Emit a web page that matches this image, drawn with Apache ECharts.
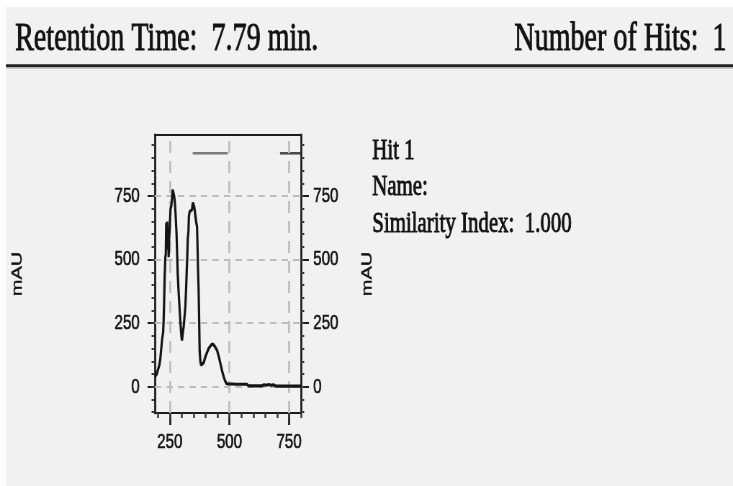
<!DOCTYPE html>
<html>
<head>
<meta charset="utf-8">
<title>Spectrum Library Hit</title>
<script src="https://cdn.jsdelivr.net/npm/echarts@6/dist/echarts.min.js"></script>
<style>
  html, body { margin: 0; padding: 0; width: 733px; height: 486px; overflow: hidden; background: #ffffff; }
  #panel { position: absolute; left: 6px; top: 7px; right: 0; bottom: 0; background: #f1f1f1; }
  /* the chart is laid out on a wider canvas and squeezed horizontally, like the report's condensed fonts */
  #chart { position: absolute; left: 0; top: 0; width: 1018px; height: 486px; transform: scaleX(0.72); transform-origin: 0 0; }
</style>
</head>
<body>
<div id="panel"></div>
<div id="chart"></div>
<script>
// UV spectrum of the hit (wavelength in nm, absorbance in mAU)
const wavelength = [
  188, 192, 196, 201, 206, 210, 214, 218, 222, 224, 226, 228, 231, 233, 235, 237, 239, 241, 243, 245,
  247, 250, 253, 256, 259, 262, 265, 268, 271, 274, 278, 281, 283, 287, 292, 295, 297, 299, 301, 303,
  306, 308, 312, 315, 318, 320, 323, 325, 328, 330, 333, 336, 339, 343, 345, 347, 350, 352, 355, 358,
  361, 364, 366, 368, 371, 373, 375, 378, 381, 386, 392, 399, 406, 413, 420, 427, 434, 441, 448, 455,
  462, 469, 476, 481, 487, 495, 510, 530, 550, 565, 573, 580, 600, 620, 636, 645, 655, 665, 675, 684,
  692, 700, 720, 750, 780, 800
];
const absorbance = [
   40,  45,  52,  70,  85, 110, 150, 190, 215, 260, 330, 420, 510, 520, 645, 600, 650, 540, 600, 510,
  580, 640, 700, 710, 740, 775, 772, 750, 725, 680, 604, 510, 446, 370, 289, 245, 217, 195, 182, 200,
  225, 236, 280, 315, 380, 433, 510, 578, 610, 670, 689, 690, 695, 696, 715, 724, 718, 709, 690, 665,
  645, 630, 560, 470, 368, 260, 144, 100,  85,  80,  95, 118, 135, 151, 160, 168, 165, 155, 144, 120,
   92,  63,  39,  25,  13,  11,  11,  10,  10,  10,  10,   4,   4,   4,   4,   8,   6,   9,   6,   8,
    4,   3,   3,   3,   3,   3
];

// axis extents and tick positions
const xRange = [187, 800];
const yRange = [-103, 990];
const xMajorTicks = [250, 500, 750];
const xMinorTicks = [200, 250, 300, 350, 400, 450, 500, 550, 600, 650, 700, 750, 800];
const yMajorTicks = [0, 250, 500, 750];
const yMinorTicks = [-100, -50, 0, 50, 100, 150, 200, 250, 300, 350, 400, 450, 500, 550, 600, 650, 700, 750, 800, 850, 900, 950];

// header and hit information
const headerLeft = 'Retention Time:  7.79 min.';
const headerRight = 'Number of Hits:  1';
const hitLines = ['Hit 1', 'Name:', 'Similarity Index:  1.000'];
const yUnit = 'mAU';

const INK = '#121212';
const AXIS = '#1c1c1c';
const GRID = '#bdbdbd';
const LABEL_FONT = 'Liberation Sans';
const SERIF = '"Liberation Serif", "Times New Roman", serif';

const chart = echarts.init(document.getElementById('chart'), null, { renderer: 'canvas' });

const labelStyle = { fontFamily: LABEL_FONT, fontSize: 21, color: INK, textBorderColor: INK, textBorderWidth: 0.6 };
const nameStyle = { fontFamily: LABEL_FONT, fontSize: 20, color: INK, textBorderColor: INK, textBorderWidth: 0.5 };

function yAxisPair(position, majorLen, labelMargin, nameGap) {
  return [
    {
      type: 'value', position, min: yRange[0], max: yRange[1],
      axisLine: { show: true, onZero: false, lineStyle: { color: AXIS, width: 2.8 } },
      axisTick: { show: true, customValues: yMajorTicks, length: majorLen, lineStyle: { color: AXIS, width: 2 } },
      axisLabel: { show: true, customValues: yMajorTicks, margin: labelMargin, ...labelStyle },
      splitLine: { show: false },
      name: yUnit, nameLocation: 'middle', nameRotate: 90, nameGap, nameTextStyle: nameStyle
    },
    {
      type: 'value', position, min: yRange[0], max: yRange[1],
      axisLine: { show: false, onZero: false },
      axisTick: { show: true, customValues: yMinorTicks, length: 4.5, lineStyle: { color: '#3a3a3a', width: 2 } },
      axisLabel: { show: false },
      splitLine: { show: false }
    }
  ];
}

const gridLines = [
  ...xMajorTicks.map(v => ({ xAxis: v, lineStyle: { type: [12, 8], width: 2.8 } })),
  ...yMajorTicks.map(v => ({ yAxis: v, lineStyle: { type: [9, 7], width: 2 } }))
];

function serifText(text, x, y, size, align) {
  return {
    type: 'text', silent: true, x, y,
    style: { text, font: size + 'px ' + SERIF, fill: INK, stroke: INK, lineWidth: 0.9, align, verticalAlign: 'middle' }
  };
}

chart.setOption({
  animation: false,
  backgroundColor: 'transparent',
  textStyle: { fontFamily: LABEL_FONT },
  grid: { left: 215, top: 135, width: 203, height: 278, outerBoundsMode: 'none', containLabel: false },
  xAxis: [
    {
      type: 'value', position: 'bottom', min: xRange[0], max: xRange[1],
      axisLine: { show: true, onZero: false, lineStyle: { color: AXIS, width: 2 } },
      axisTick: { show: true, customValues: xMajorTicks, length: 12, lineStyle: { color: AXIS, width: 2.8 } },
      axisLabel: { show: true, customValues: xMajorTicks, margin: 19, ...labelStyle },
      splitLine: { show: false }
    },
    {
      type: 'value', position: 'bottom', min: xRange[0], max: xRange[1],
      axisLine: { show: false, onZero: false },
      axisTick: { show: true, customValues: xMinorTicks, length: 5, lineStyle: { color: '#3a3a3a', width: 2.6 } },
      axisLabel: { show: false },
      splitLine: { show: false }
    },
    {
      type: 'value', position: 'top', min: xRange[0], max: xRange[1],
      axisLine: { show: true, onZero: false, lineStyle: { color: AXIS, width: 2 } },
      axisTick: { show: false },
      axisLabel: { show: false },
      splitLine: { show: false }
    }
  ],
  yAxis: [
    ...yAxisPair('left', 10, 21, 181),
    ...yAxisPair('right', 11, 17, 82)
  ],
  series: [
    {
      type: 'line',
      xAxisIndex: 0,
      yAxisIndex: 0,
      z: 3,
      data: wavelength.map((w, i) => [w, absorbance[i]]),
      showSymbol: false,
      symbol: 'none',
      lineStyle: { color: '#141414', width: 3.2 },
      markLine: {
        silent: true,
        z: 1,
        symbol: ['none', 'none'],
        label: { show: false },
        emphasis: { disabled: true },
        lineStyle: { color: GRID, width: 2 },
        data: gridLines
      }
    }
  ],
  graphic: [
    { type: 'line', silent: true, shape: { x1: 8.3, y1: 65.6, x2: 1018, y2: 65.6 }, style: { stroke: '#202020', lineWidth: 2.6 } },
    { type: 'line', silent: true, shape: { x1: 8.3, y1: 67.9, x2: 1018, y2: 67.9 }, style: { stroke: '#9a9a9a', lineWidth: 1.2 } },
    serifText(headerLeft, 21, 39.5, 39, 'left'),
    serifText(headerRight, 1009, 39.5, 39, 'right'),
    serifText(hitLines[0], 517, 151.5, 29, 'left'),
    serifText(hitLines[1], 517, 187.8, 29, 'left'),
    serifText(hitLines[2], 517, 224.3, 29, 'left'),
    // legend strokes above the trace
    { type: 'line', silent: true, shape: { x1: 267.6, y1: 153.3, x2: 316.3, y2: 153.3 }, style: { stroke: '#7c7c7c', lineWidth: 2.6 } },
    { type: 'line', silent: true, shape: { x1: 388.9, y1: 153.3, x2: 417, y2: 153.3 }, style: { stroke: '#4c4c4c', lineWidth: 2.6 } }
  ]
});
</script>
</body>
</html>
